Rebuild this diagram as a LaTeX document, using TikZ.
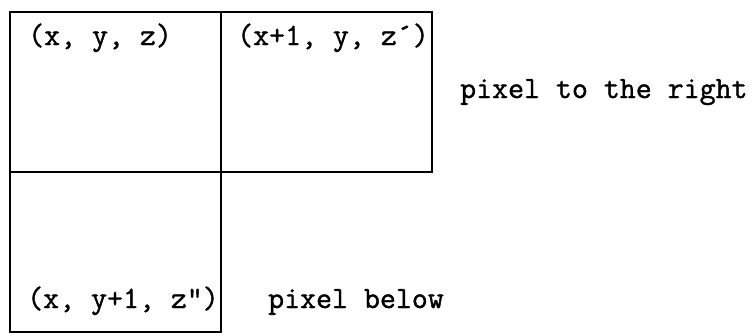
\documentclass[tikz,border=0pt]{standalone}
\usepackage{fontspec}
\setmonofont{Latin Modern Mono}[FakeBold=1.2]
\begin{document}
\begin{tikzpicture}[x=1pt,y=-1pt,
  cell/.style={draw=black,line width=1.7pt,minimum width=211pt,minimum height=160pt,inner sep=0pt,anchor=north west,outer sep=0pt},
  lbl/.style={inner sep=0pt,anchor=base west,font=\ttfamily\fontsize{31}{35}\selectfont}]
\useasboundingbox (0,0) rectangle (752,335);
\node[cell] (tl) at (10,12) {};
\node[cell] (tr) at (221,12) {};
\node[cell] (bl) at (10,172) {};
\node[lbl] (t1) at (28,45) {(x, y, z)};
\node[lbl] (t2) at (237,45) {(x+1, y, z´)};
\node[lbl] (t3) at (460,98) {pixel to the right};
\node[lbl] (t4) at (27,308) {(x, y+1, z")};
\node[lbl] (t5) at (268,308) {pixel below};
\end{tikzpicture}
\end{document}
